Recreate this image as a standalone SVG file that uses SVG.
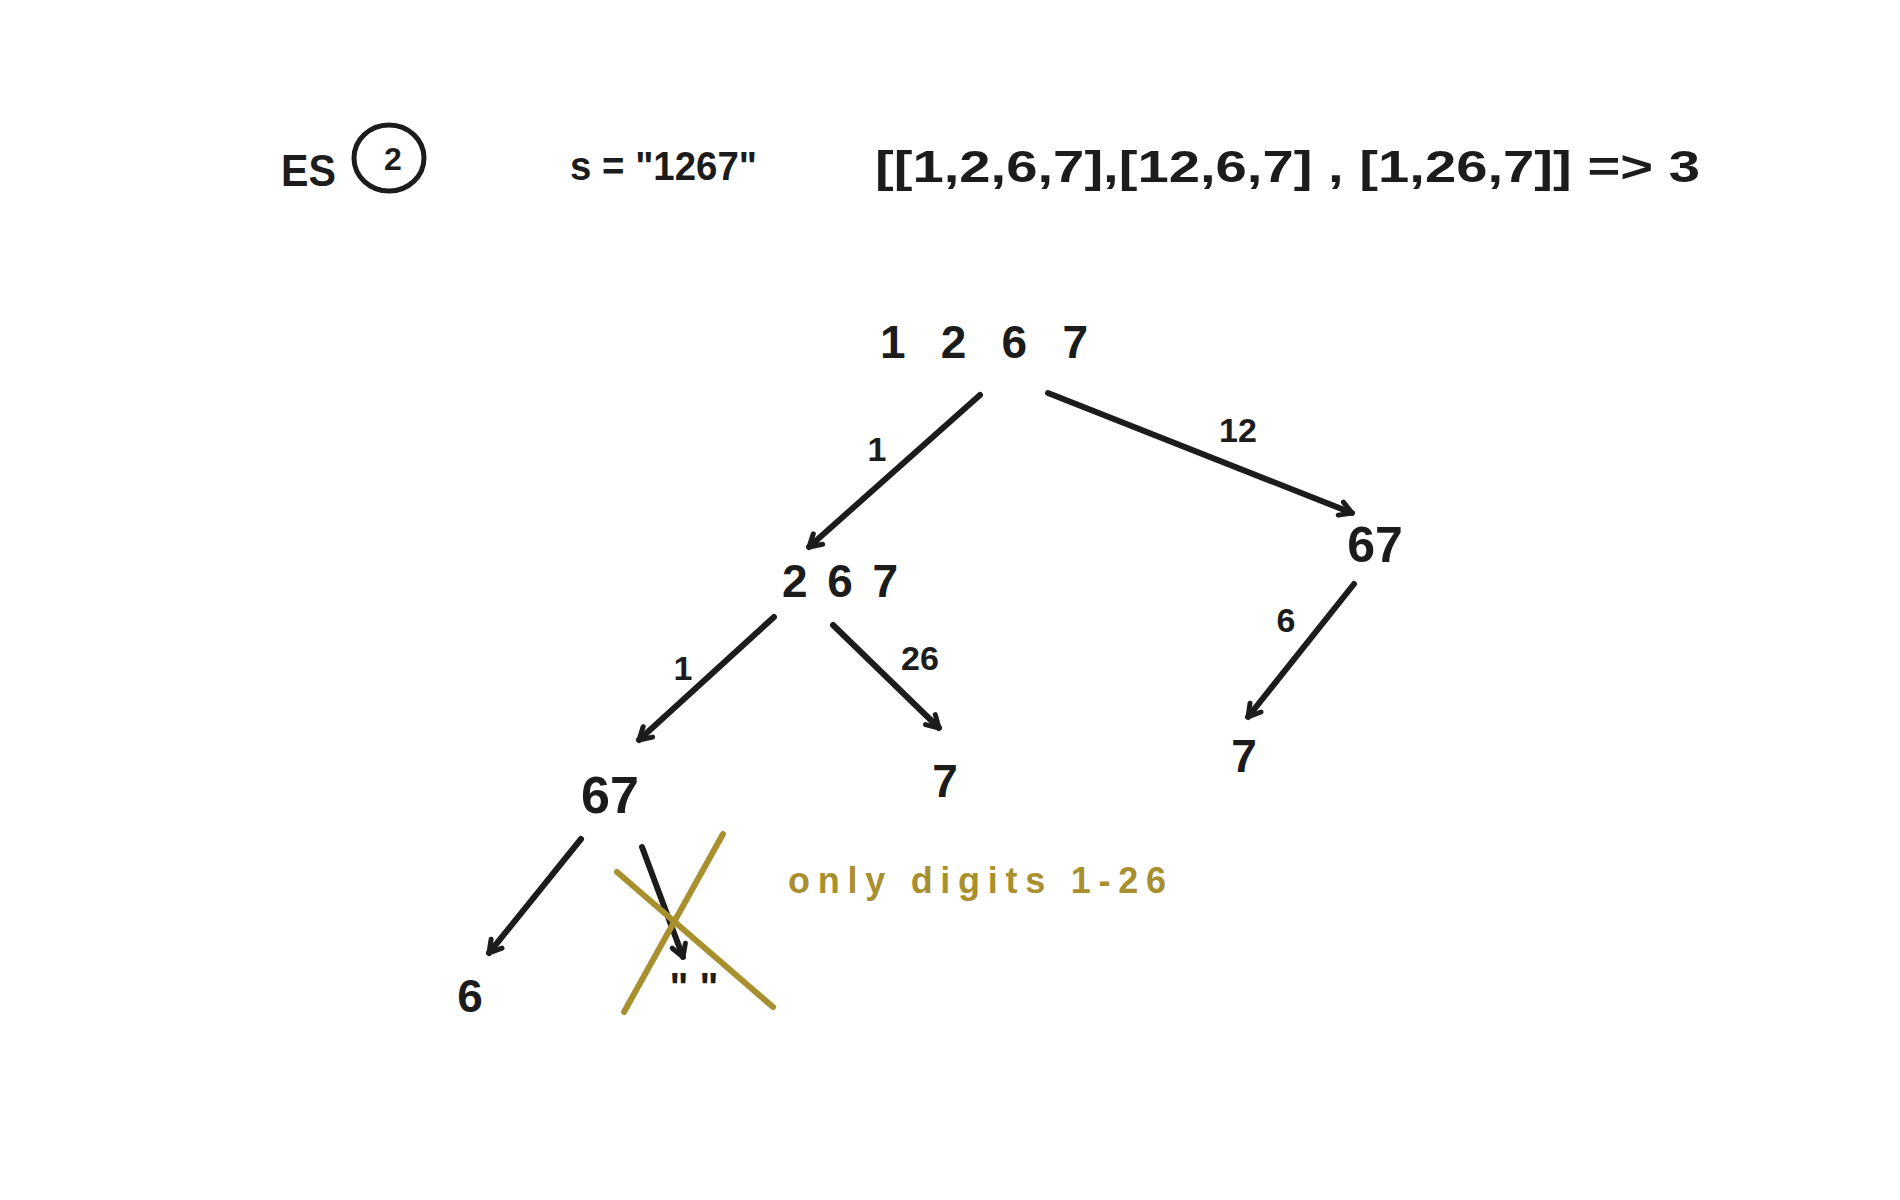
<svg xmlns="http://www.w3.org/2000/svg" width="1900" height="1200" viewBox="0 0 1900 1200">
  <style>
    .ink { fill: #1c1c1c; font-family: "Liberation Sans", Arial, sans-serif; font-weight: bold; }
    .n { font-size: 46px; }
    .lbl { font-size: 34px; }
    .hdr { font-size: 44px; }
    .gold { fill: #a8902f; font-family: "Liberation Sans", Arial, sans-serif; font-weight: bold; font-size: 36px; }
    .edge { stroke: #1c1c1c; stroke-width: 6; stroke-linecap: round; fill: none; marker-end: url(#ah); }
    .cross { stroke: #a8902f; stroke-width: 6; stroke-linecap: round; fill: none; }
  </style>
  <defs>
    <marker id="ah" viewBox="0 0 20 20" refX="18" refY="10" markerWidth="20" markerHeight="20" markerUnits="userSpaceOnUse" orient="auto">
      <path d="M6,3 L18,10 L6,17" fill="none" stroke="#1c1c1c" stroke-width="5" stroke-linecap="round" stroke-linejoin="round"/>
    </marker>
  </defs>
  <rect width="1900" height="1200" fill="#ffffff"/>

  <g id="header">
    <text class="ink hdr" x="281" y="186" textLength="55" lengthAdjust="spacingAndGlyphs">ES</text>
    <ellipse cx="389" cy="158" rx="35" ry="33" fill="none" stroke="#1c1c1c" stroke-width="5"/>
    <text class="ink" x="393" y="170" font-size="32" text-anchor="middle">2</text>
    <text class="ink" x="570" y="180" font-size="40" textLength="187" lengthAdjust="spacingAndGlyphs">s = "1267"</text>
    <text class="ink hdr" x="875" y="182" textLength="825" lengthAdjust="spacingAndGlyphs">[[1,2,6,7],[12,6,7] , [1,26,7]] =&gt; 3</text>
  </g>

  <g id="connectors">
    <line class="edge" x1="980" y1="395" x2="809" y2="547"/>
    <line class="edge" x1="1048" y1="393" x2="1352" y2="513"/>
    <line class="edge" x1="1354" y1="584" x2="1248" y2="717"/>
    <line class="edge" x1="774" y1="617" x2="639" y2="740"/>
    <line class="edge" x1="833" y1="625" x2="939" y2="728"/>
    <line class="edge" x1="581" y1="839" x2="489" y2="953"/>
    <line class="edge" x1="642" y1="847" x2="683" y2="957"/>
  </g>

  <g id="edge-labels">
    <text class="ink lbl" x="877" y="461" text-anchor="middle">1</text>
    <text class="ink lbl" x="1238" y="442" text-anchor="middle">12</text>
    <text class="ink lbl" x="1286" y="632" text-anchor="middle">6</text>
    <text class="ink lbl" x="683" y="680" text-anchor="middle">1</text>
    <text class="ink lbl" x="920" y="670" text-anchor="middle">26</text>
  </g>

  <g id="node-root">
    <text class="ink n" x="880" y="358" textLength="208" lengthAdjust="spacing">1 2 6 7</text>
  </g>
  <g id="node-267">
    <text class="ink n" x="782" y="597" textLength="116" lengthAdjust="spacing">2 6 7</text>
  </g>
  <g id="node-67-right">
    <text class="ink" x="1375" y="562" font-size="50" text-anchor="middle">67</text>
  </g>
  <g id="node-7-right">
    <text class="ink n" x="1244" y="772" text-anchor="middle">7</text>
  </g>
  <g id="node-67-left">
    <text class="ink" x="610" y="813" font-size="52" text-anchor="middle">67</text>
  </g>
  <g id="node-7-mid">
    <text class="ink n" x="945" y="797" text-anchor="middle">7</text>
  </g>
  <g id="node-6">
    <text class="ink n" x="470" y="1012" text-anchor="middle">6</text>
  </g>
  <g id="node-empty">
    <text class="ink" x="694" y="1001" font-size="40" text-anchor="middle">" "</text>
  </g>

  <g id="annotation">
    <line class="cross" x1="617" y1="872" x2="773" y2="1007"/>
    <line class="cross" x1="723" y1="834" x2="624" y2="1012"/>
    <text class="gold" x="788" y="893" textLength="378" lengthAdjust="spacing">only digits 1-26</text>
  </g>
</svg>
